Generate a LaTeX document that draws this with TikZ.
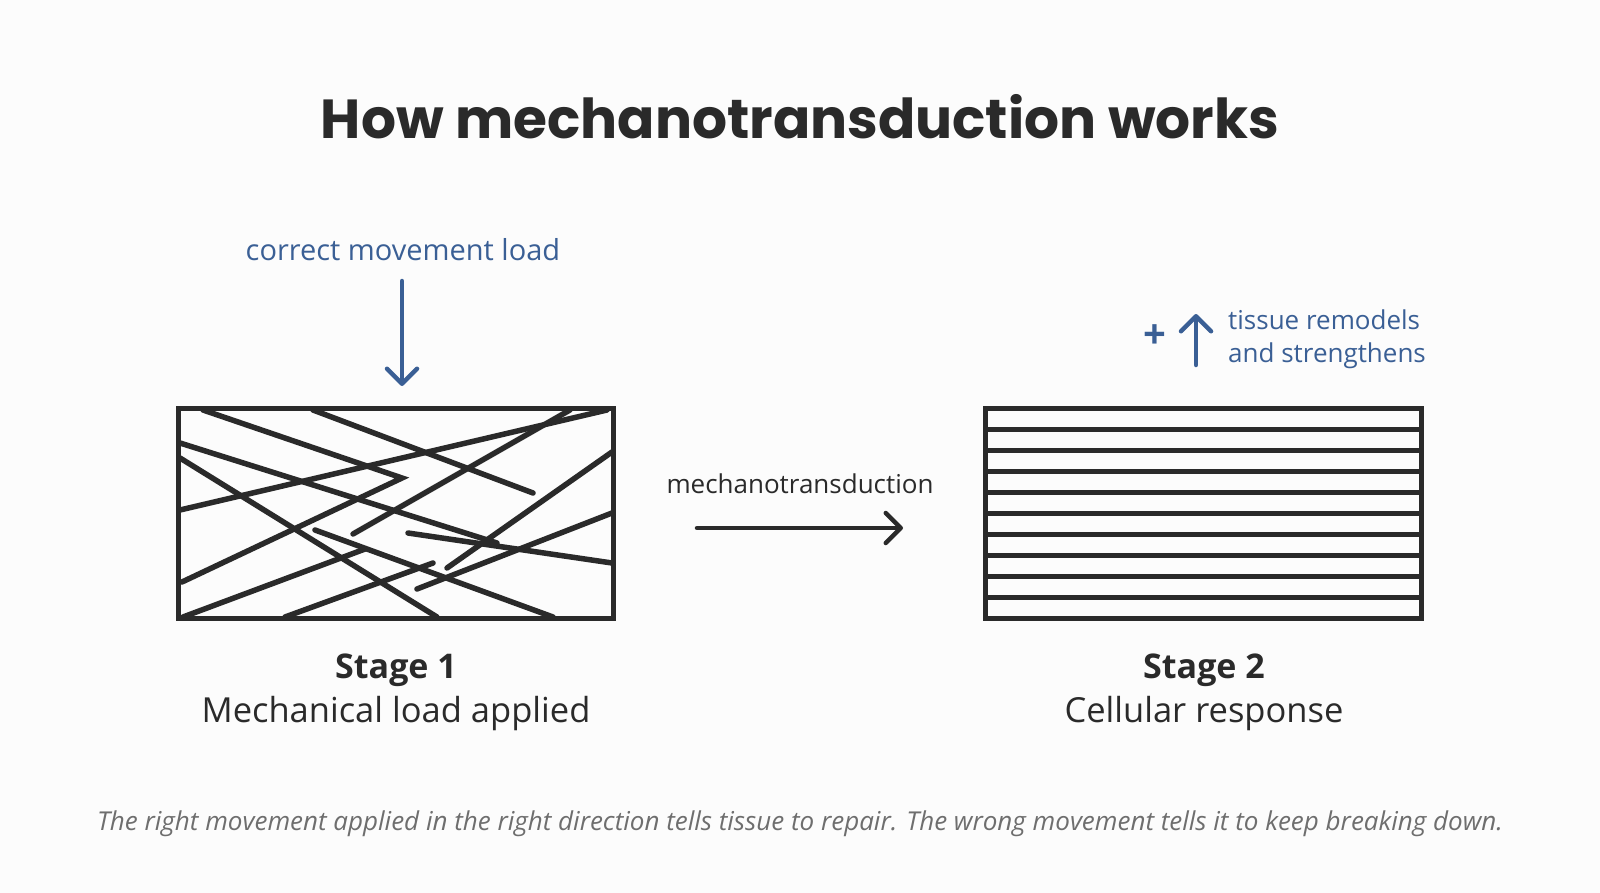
\documentclass[tikz,border=0pt]{standalone}
\usepackage{fontspec}
\setmainfont{Open Sans}
\newfontfamily\titlefont{Poppins}
\usetikzlibrary{arrows.meta}
\definecolor{ink}{HTML}{2A2A2A}
\definecolor{blu}{HTML}{3A5F95}
\definecolor{gry}{HTML}{6E6E6E}
\begin{document}
\begin{tikzpicture}[x=1pt,y=-1pt,
  fib/.style={ink,line width=5.5pt,line cap=round},
  box/.style={ink,line width=5pt},
  arr/.style={line width=4.5pt,line cap=round,-{Straight Barb[length=15pt,width=30pt,line width=4.5pt,round]}},
  lbl/.style={inner sep=0pt,anchor=center}]
\fill[white!98!gray] (0,0) rectangle (1600,893);
\useasboundingbox (0,0) rectangle (1600,893);
\node[lbl,font=\titlefont\fontsize{55}{62}\selectfont\bfseries,text=ink] (title) at (800,117) {How mechanotransduction works};
\node[lbl,font=\fontsize{29}{32}\selectfont,text=blu] (load) at (403,250) {correct movement load};
\coordinate (la) at (402,281); \coordinate (lb) at (402,386);
\draw[arr,blu] (la) -- (lb);
% left box
\begin{scope}
\clip (178,408) rectangle (613,618);
\draw[fib] (203,410) -- (402,478) -- (182,582);
\draw[fib] (313,410) -- (533,493);
\draw[fib] (180,510) -- (607,410);
\draw[fib] (180,443) -- (497,543);
\draw[fib] (180,458) -- (437,617);
\draw[fib] (315,530) -- (553,617);
\draw[fib] (408,533) -- (612,563);
\draw[fib] (353,534) -- (570,410);
\draw[fib] (447,568) -- (612,452);
\draw[fib] (417,589) -- (612,513);
\draw[fib] (285,617) -- (433,563);
\draw[fib] (183,617) -- (365,549);
\end{scope}
\node[box,draw,minimum width=435pt,minimum height=210pt,inner sep=0pt] (b1) at (395.5,513) {};
% middle
\node[lbl,font=\fontsize{26}{30}\selectfont,text=ink] (mt) at (800,484) {mechanotransduction};
\coordinate (ma) at (697,528); \coordinate (mb) at (903,528);
\draw[arr,ink] (ma) -- (mb);
% right box
\node[box,draw,minimum width=436pt,minimum height=210pt,inner sep=0pt] (b2) at (1203,513) {};
\foreach \i in {1,...,9} \draw[box] (985,408+\i*21) -- (1421,408+\i*21);
\node[lbl,font=\fontsize{40}{44}\selectfont,text=blu] (plus) at (1155,337) {\textbf{+}};
\coordinate (ua) at (1196,365); \coordinate (ub) at (1196,314);
\draw[arr,blu] (ua) -- (ub);
\node[anchor=west,inner sep=0pt,font=\fontsize{26}{33}\selectfont,text=blu,align=left] (ts) at (1228,339) {tissue remodels\\and strengthens};
% labels
\node[lbl,font=\fontsize{34}{38}\selectfont\bfseries,text=ink] (s1) at (396,670) {Stage 1};
\node[lbl,font=\fontsize{34.5}{40}\selectfont,text=ink] (s1b) at (396,714) {Mechanical load applied};
\node[lbl,font=\fontsize{34}{38}\selectfont\bfseries,text=ink] (s2) at (1204,670) {Stage 2};
\node[lbl,font=\fontsize{34.5}{40}\selectfont,text=ink] (s2b) at (1204,714) {Cellular response};
\node[lbl,font=\fontsize{26}{30}\selectfont\itshape,text=gry] (cap) at (800,824) {The right movement applied in the right direction tells tissue to repair. The wrong movement tells it to keep breaking down.};
\end{tikzpicture}
\end{document}
